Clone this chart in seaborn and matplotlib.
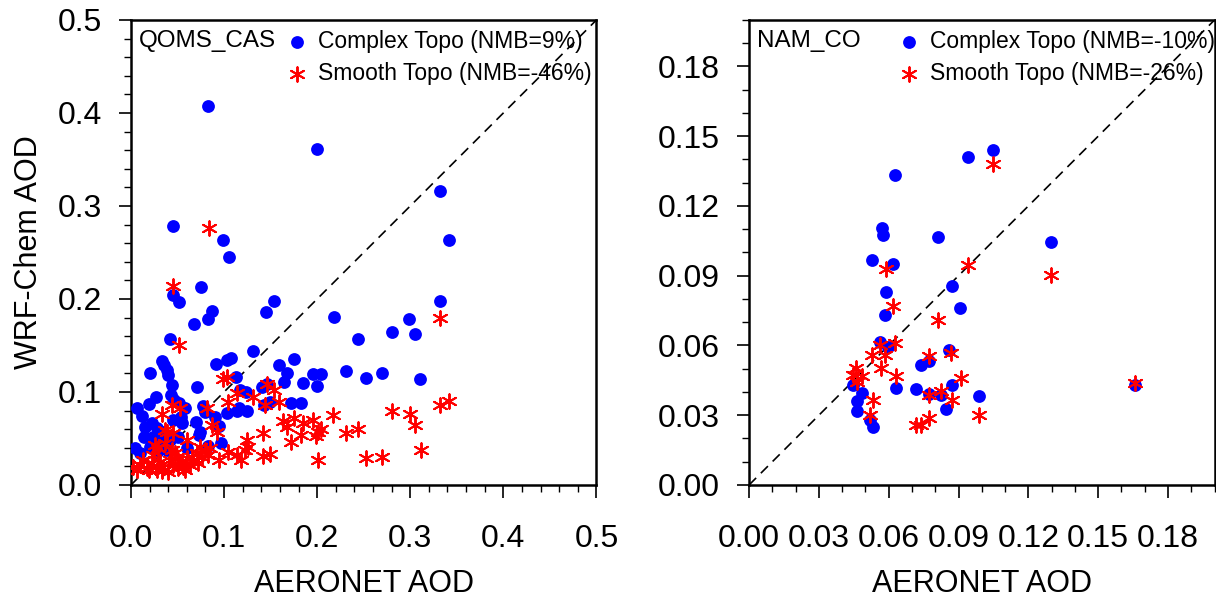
import matplotlib
matplotlib.use("Agg")
import matplotlib.pyplot as plt
import numpy as np
import pandas as pd
import seaborn as sns
from matplotlib.ticker import MultipleLocator, FormatStrFormatter

# QOMS_CAS: complex topography (blue dots)
qoms_complex_x = [0.083, 0.200, 0.332, 0.0455, 0.099, 0.342, 0.105, 0.075, 0.0455, 0.052,
                  0.154, 0.332, 0.145, 0.0867, 0.0824, 0.0677, 0.2176, 0.299, 0.2806, 0.305,
                  0.2444, 0.042, 0.1315, 0.1036, 0.107, 0.0337, 0.0358, 0.0384, 0.0401, 0.0201,
                  0.0917, 0.1595, 0.1756, 0.1674, 0.1645, 0.1129, 0.196, 0.2043, 0.1997, 0.185,
                  0.231, 0.252, 0.2695, 0.3108, 0.0444, 0.071, 0.0265, 0.0197, 0.0068, 0.0115,
                  0.043, 0.0466, 0.052, 0.058, 0.0534, 0.0778, 0.0796, 0.0903, 0.095, 0.0699,
                  0.1172, 0.1237, 0.1136, 0.1036, 0.1165, 0.1244, 0.1405, 0.1459, 0.143, 0.1495,
                  0.1717, 0.1828, 0.0742, 0.0731, 0.0968, 0.0832, 0.0043, 0.015, 0.0222, 0.0276,
                  0.014, 0.024, 0.0348, 0.0312, 0.042, 0.0509, 0.0545, 0.0455, 0.0204, 0.0097,
                  0.060, 0.0384, 0.0276]
qoms_complex_y = [0.408, 0.361, 0.316, 0.279, 0.263, 0.263, 0.2455, 0.2126, 0.204, 0.197,
                  0.198, 0.198, 0.186, 0.187, 0.178, 0.173, 0.181, 0.178, 0.164, 0.162,
                  0.157, 0.1567, 0.144, 0.134, 0.137, 0.133, 0.129, 0.124, 0.118, 0.120,
                  0.130, 0.129, 0.1355, 0.120, 0.111, 0.1158, 0.119, 0.119, 0.1065, 0.110,
                  0.123, 0.115, 0.120, 0.114, 0.1075, 0.105, 0.095, 0.0868, 0.0824, 0.0742,
                  0.0968, 0.0914, 0.0885, 0.0824, 0.0735, 0.085, 0.0788, 0.0735, 0.0638, 0.068,
                  0.102, 0.0997, 0.080, 0.0778, 0.0824, 0.080, 0.1057, 0.1086, 0.086, 0.0896,
                  0.0878, 0.0878, 0.0573, 0.0538, 0.0455, 0.042, 0.0394, 0.0627, 0.0663, 0.061,
                  0.052, 0.052, 0.0573, 0.0448, 0.0484, 0.052, 0.0663, 0.0699, 0.0412, 0.034,
                  0.0394, 0.0376, 0.0358]

# QOMS_CAS: smooth topography (red asterisks)
qoms_smooth_x = [0.0835, 0.0455, 0.052, 0.3315, 0.0993, 0.1029, 0.1136, 0.1315, 0.1459, 0.1538,
                 0.1595, 0.1441, 0.1047, 0.082, 0.0437, 0.0527, 0.0337, 0.3315, 0.342, 0.2803,
                 0.2993, 0.305, 0.3115, 0.2695, 0.252, 0.2441, 0.2312, 0.2169, 0.2014, 0.2014,
                 0.2043, 0.1989, 0.196, 0.1846, 0.1828, 0.1753, 0.1638, 0.1674, 0.1717, 0.1416,
                 0.1423, 0.1495, 0.1244, 0.1254, 0.1226, 0.1047, 0.1136, 0.118, 0.0946, 0.0921,
                 0.0867, 0.0599, 0.0384, 0.0455, 0.058, 0.0025, 0.0097, 0.0168, 0.0222, 0.0276,
                 0.0312, 0.0348, 0.0401, 0.042, 0.0455, 0.0491, 0.0509, 0.0545, 0.0599, 0.0634,
                 0.067, 0.0706, 0.0742, 0.0759, 0.0796, 0.0832, 0.085, 0.0724, 0.024, 0.0294,
                 0.0366, 0.0437, 0.0258, 0.0366, 0.0133, 0.0061, 0.0197, 0.033, 0.0563, 0.0652,
                 0.0473]
qoms_smooth_y = [0.276, 0.214, 0.1505, 0.180, 0.1136, 0.1165, 0.0986, 0.0943, 0.1086, 0.1022,
                 0.0896, 0.086, 0.0889, 0.0832, 0.086, 0.0824, 0.076, 0.086, 0.0907, 0.0796,
                 0.076, 0.0645, 0.0376, 0.0304, 0.0294, 0.0606, 0.0556, 0.0753, 0.0269, 0.0573,
                 0.0602, 0.0527, 0.0699, 0.0663, 0.0538, 0.0724, 0.0688, 0.0627, 0.0459, 0.0556,
                 0.0312, 0.033, 0.0484, 0.0412, 0.0376, 0.0358, 0.0323, 0.0269, 0.0269, 0.0573,
                 0.0645, 0.0484, 0.0573, 0.0556, 0.0161, 0.0197, 0.0215, 0.018, 0.0233, 0.0161,
                 0.025, 0.0197, 0.0143, 0.0269, 0.0215, 0.0304, 0.018, 0.025, 0.0287, 0.0215,
                 0.0269, 0.034, 0.0412, 0.0304, 0.0376, 0.0323, 0.0394, 0.0233, 0.0323, 0.0394,
                 0.0448, 0.0376, 0.043, 0.0591, 0.0269, 0.0161, 0.0158, 0.015, 0.0197, 0.0304,
                 0.034]

# NAM_CO: complex topography (blue dots)
nam_complex_x = [0.1046, 0.0939, 0.0628, 0.0571, 0.0577, 0.0811, 0.1297, 0.0528, 0.0619, 0.087,
                 0.0588, 0.0906, 0.0585, 0.0562, 0.0598, 0.074, 0.0774, 0.086, 0.0445, 0.0484,
                 0.0462, 0.0462, 0.0519, 0.0534, 0.063, 0.0717, 0.0774, 0.0824, 0.0848, 0.087,
                 0.0988, 0.166]
nam_complex_y = [0.1442, 0.1409, 0.1333, 0.1104, 0.1076, 0.1066, 0.1043, 0.0969, 0.095, 0.0855,
                 0.0831, 0.0763, 0.0733, 0.0615, 0.0594, 0.0515, 0.0534, 0.0579, 0.0432, 0.0396,
                 0.0362, 0.0318, 0.0279, 0.0248, 0.0419, 0.0412, 0.039, 0.0389, 0.0326, 0.0429,
                 0.0382, 0.0432]

# NAM_CO: smooth topography (red asterisks)
nam_smooth_x = [0.1046, 0.0588, 0.0939, 0.1297, 0.0619, 0.081, 0.0627, 0.0562, 0.0584, 0.0527,
                0.0569, 0.0459, 0.0445, 0.0484, 0.0462, 0.063, 0.0774, 0.0866, 0.091, 0.0774,
                0.0824, 0.087, 0.0534, 0.0519, 0.0717, 0.0738, 0.0774, 0.0988, 0.166]
nam_smooth_y = [0.138, 0.0927, 0.0947, 0.0901, 0.0768, 0.0711, 0.0612, 0.0601, 0.0558, 0.0558,
                0.0501, 0.0503, 0.0475, 0.0469, 0.0443, 0.0469, 0.0554, 0.0568, 0.046, 0.0389,
                0.0403, 0.0365, 0.0365, 0.030, 0.026, 0.0258, 0.029, 0.030, 0.0439]

stations = ["QOMS_CAS", "NAM_CO"]
nmb_complex = ["9%", "-10%"]
nmb_smooth = ["-46%", "-26%"]
axis_max = [0.5, 0.2]
major_step = [0.1, 0.03]
minor_step = [0.02, 0.01]
tick_fmt = ["%.1f", "%.2f"]

sns.set_style("white")
plt.rcParams["font.family"] = ["Liberation Sans", "DejaVu Sans"]
plt.rcParams["text.color"] = "black"
plt.rcParams["axes.labelcolor"] = "black"
plt.rcParams["xtick.color"] = "black"
plt.rcParams["ytick.color"] = "black"
plt.rcParams["xtick.direction"] = "out"
plt.rcParams["ytick.direction"] = "out"

fig = plt.figure(figsize=(12.16, 6.0), dpi=100)
ax1 = fig.add_axes([0.1077, 0.1917, 0.3828, 0.775])
ax2 = fig.add_axes([0.616, 0.1917, 0.3828, 0.775])

panels = [
    (ax1, qoms_complex_x, qoms_complex_y, qoms_smooth_x, qoms_smooth_y),
    (ax2, nam_complex_x, nam_complex_y, nam_smooth_x, nam_smooth_y),
]

asterisk = (6, 2, 0)

for i, (ax, cx, cy, sx, sy) in enumerate(panels):
    dfc = pd.DataFrame({"obs": cx, "model": cy})
    dfs = pd.DataFrame({"obs": sx, "model": sy})
    sns.scatterplot(data=dfc, x="obs", y="model", ax=ax, color="blue", marker="o",
                    s=85, linewidth=0, label=f"Complex Topo (NMB={nmb_complex[i]})", zorder=3)
    sns.scatterplot(data=dfs, x="obs", y="model", ax=ax, color="red", marker=asterisk,
                    s=110, linewidth=1.4, label=f"Smooth Topo (NMB={nmb_smooth[i]})", zorder=4)
    ax.axline((0, 0), slope=1, color="black", linestyle=(0, (6, 4)), linewidth=1.2, zorder=2)

    lim = axis_max[i]
    ax.set_xlim(0, lim)
    ax.set_ylim(0, lim)
    ax.xaxis.set_major_locator(MultipleLocator(major_step[i]))
    ax.yaxis.set_major_locator(MultipleLocator(major_step[i]))
    ax.xaxis.set_minor_locator(MultipleLocator(minor_step[i]))
    ax.yaxis.set_minor_locator(MultipleLocator(minor_step[i]))
    ax.xaxis.set_major_formatter(FormatStrFormatter(tick_fmt[i]))
    ax.yaxis.set_major_formatter(FormatStrFormatter(tick_fmt[i]))
    ax.tick_params(which="major", length=9, width=1.2, labelsize=23,
                   bottom=True, left=True, top=False, right=False)
    ax.tick_params(axis="x", which="major", pad=19)
    ax.tick_params(axis="y", which="major", pad=12)
    ax.tick_params(which="minor", length=5, width=1.0,
                   bottom=True, left=True, top=False, right=False)
    for sp in ax.spines.values():
        sp.set_linewidth(1.8)
        sp.set_color("black")

    ax.set_xlabel("AERONET AOD", fontsize=22, labelpad=11)
    ax.set_ylabel("")
    ax.text(0.017, 0.955, stations[i], transform=ax.transAxes, fontsize=17.5,
            ha="left", va="center")
    leg = ax.legend(loc="upper left", bbox_to_anchor=(0.333 if i == 0 else 0.32, 0.978),
                    frameon=False, fontsize=16.5, borderaxespad=0, borderpad=0,
                    handlelength=1.0, handletextpad=0.4, labelspacing=0.38)

ax1.set_ylabel("WRF-Chem AOD", fontsize=22, labelpad=10)

fig.savefig("out.png", dpi=100)
